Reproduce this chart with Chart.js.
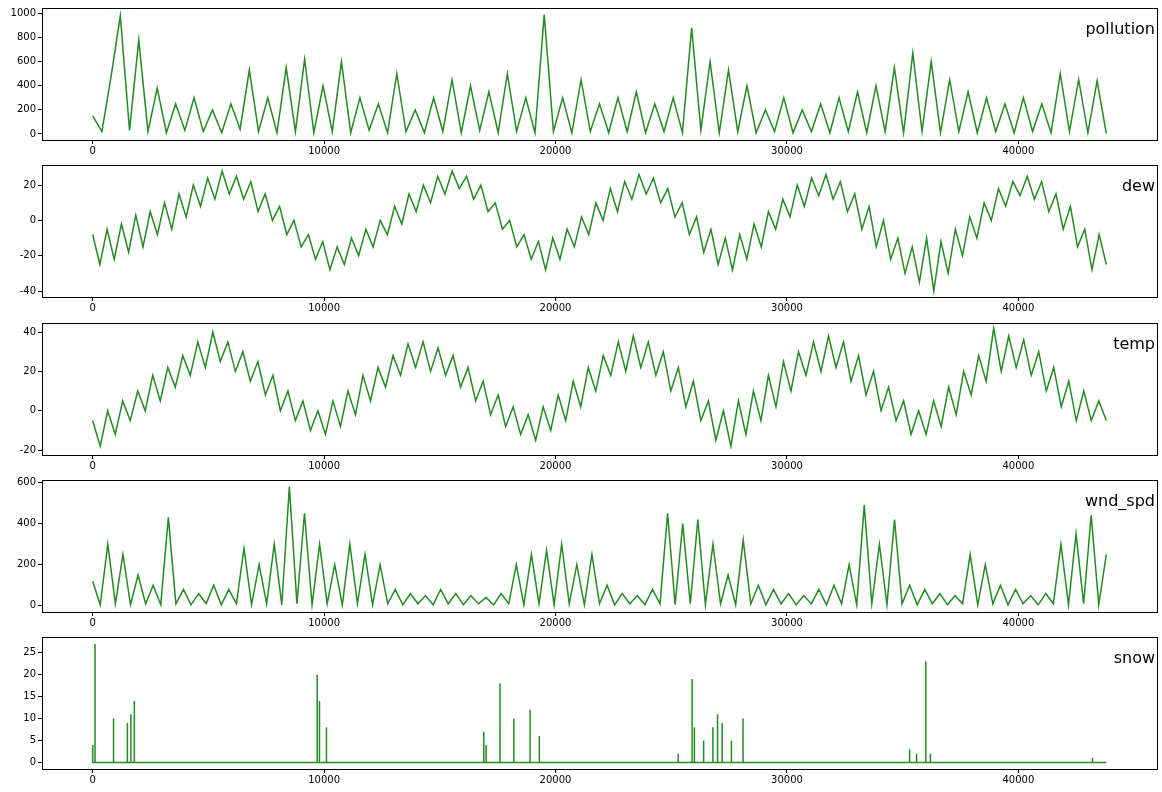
<!DOCTYPE html>
<html><head><meta charset="utf-8">
<script src="https://cdn.jsdelivr.net/npm/chart.js@4.4.0/dist/chart.umd.min.js"></script>
<style>body{margin:0;background:#fff;width:1162px;height:792px;position:relative;overflow:hidden}
.p{position:absolute;left:0;width:1162px;height:157px}</style></head><body>
<script>
const TOTAL_HOURS = 43800;
const xTicks = [0,10000,20000,30000,40000];
const pollution = [150,20,480,980,30,780,20,380,10,250,30,300,20,200,10,250,40,530,20,300,10,550,20,620,10,400,20,600,10,300,30,250,10,500,20,200,10,300,20,450,10,400,30,350,10,500,20,300,10,990,20,300,10,450,20,250,10,300,20,350,10,250,20,300,10,880,30,600,10,530,20,400,10,200,20,300,10,200,20,250,10,300,20,350,10,400,20,550,10,670,20,600,10,450,20,350,10,300,20,250,10,300,20,250,10,500,20,450,10,440,5];
const dew = [-8,-25,-5,-22,-2,-18,3,-15,5,-8,10,-5,15,2,20,8,24,12,28,15,25,12,22,5,15,0,8,-8,0,-15,-8,-22,-12,-28,-15,-25,-10,-20,-5,-15,0,-8,8,-2,15,5,20,10,25,15,28,18,25,12,20,5,10,-5,0,-15,-8,-22,-12,-28,-10,-22,-5,-15,2,-8,10,0,18,5,22,12,26,15,24,10,18,2,10,-8,2,-18,-5,-25,-10,-28,-8,-22,-2,-15,5,-5,12,2,20,8,24,14,26,12,22,5,15,-5,8,-15,0,-22,-10,-30,-15,-35,-10,-40,-12,-30,-5,-20,2,-10,10,0,18,8,22,14,25,12,22,5,15,-5,8,-15,-5,-28,-8,-25];
const temp = [-5,-18,0,-12,5,-5,10,0,18,5,22,12,28,18,35,22,40,25,35,20,30,15,25,8,18,0,10,-5,5,-10,0,-12,5,-8,10,-2,18,5,22,12,28,18,34,22,35,20,32,18,28,12,22,5,15,-2,8,-8,2,-12,-2,-15,2,-10,8,-5,15,2,22,10,28,18,35,20,38,22,35,18,30,10,22,2,15,-5,5,-15,0,-18,5,-12,10,-5,18,2,25,10,30,18,35,20,38,22,35,15,28,8,20,0,12,-5,5,-12,0,-12,5,-8,12,-2,20,8,28,15,42,20,38,22,36,18,30,10,22,2,15,-5,10,-5,5,-5];
const wndSpd = [120,5,300,10,250,5,150,10,100,5,430,10,80,5,60,10,100,5,80,10,280,5,200,10,300,5,580,10,450,5,300,10,200,5,300,10,250,5,200,10,80,5,60,10,50,5,80,10,60,5,50,10,40,5,60,10,200,5,250,10,270,5,300,10,200,5,250,10,100,5,60,10,50,5,80,10,450,5,400,10,420,5,300,10,150,5,320,10,100,5,80,10,60,5,50,10,80,5,100,10,200,5,490,10,300,5,420,10,100,5,80,10,60,5,50,10,250,5,200,10,100,5,80,10,50,5,60,10,300,5,350,10,440,5,250];
const snowAt = [0,100,900,1500,1650,1800,9700,9800,10100,16900,17000,17600,18200,18900,19300,25300,25900,26000,26400,26800,27000,27200,27600,28100,35300,35600,36000,36200,43200];
const snowVal = [4,27,10,9,11,14,20,14,8,7,4,18,10,12,6,2,19,8,5,8,11,9,5,10,3,2,23,2,1];

function evenly(vals){const n=vals.length;return vals.map((v,i)=>({x:i*TOTAL_HOURS/(n-1),y:v}));}
function spikes(){const d=[{x:0,y:0}];snowAt.forEach((x,i)=>{d.push({x:x-1,y:0},{x:x,y:snowVal[i]},{x:x+1,y:0});});d.push({x:TOTAL_HOURS,y:0});return d.sort((a,b)=>a.x-b.x);}

const panels = [
 {name:'pollution',data:evenly(pollution),min:-50,max:1045,ticks:[0,200,400,600,800,1000]},
 {name:'dew',data:evenly(dew),min:-43.4,max:31.4,ticks:[-40,-20,0,20]},
 {name:'temp',data:evenly(temp),min:-22.5,max:44.6,ticks:[-20,0,20,40]},
 {name:'wnd_spd',data:evenly(wndSpd),min:-30,max:612,ticks:[0,200,400,600]},
 {name:'snow',data:spikes(),min:-1.5,max:28.6,ticks:[0,5,10,15,20,25]}
];
const frame={id:'frame',afterDraw(c){const a=c.chartArea,x=c.ctx;x.save();x.strokeStyle='#000';x.lineWidth=1;x.strokeRect(a.left+0.5,a.top+0.5,a.right-a.left,a.bottom-a.top);
 x.fillStyle='#000';x.font='16px "DejaVu Sans"';x.textAlign='right';x.textBaseline='alphabetic';x.fillText(c.options.plugins.frame.title,a.right-2,a.top+26);x.restore();}};
panels.forEach((p,i)=>{
 const d=document.createElement('div');d.className='p';d.style.top=(157.25*i)+'px';
 const cv=document.createElement('canvas');d.appendChild(cv);document.body.appendChild(d);
 new Chart(cv,{type:'line',data:{datasets:[{data:p.data,borderColor:'#228B22',borderWidth:1.5,pointRadius:0,tension:0}]},
 plugins:[frame],
 options:{responsive:true,maintainAspectRatio:false,animation:false,layout:{padding:{top:8,right:5,left:0,bottom:0}},
 plugins:{legend:{display:false},tooltip:{enabled:false},frame:{title:p.name}},
 scales:{
  x:{type:'linear',min:-2190,max:45990,afterBuildTicks:s=>{s.ticks=xTicks.map(v=>({value:v}));},afterFit:s=>{s.height=17;},
   grid:{drawOnChartArea:false,tickLength:4,color:'#000'},border:{display:false},
   ticks:{color:'#000',font:{size:10,family:'DejaVu Sans'},padding:1,maxRotation:0,callback:v=>String(v)}},
  y:{min:p.min,max:p.max,afterBuildTicks:s=>{s.ticks=p.ticks.map(v=>({value:v}));},afterFit:s=>{s.width=42;},
   grid:{drawOnChartArea:false,tickLength:4,color:'#000'},border:{display:false},
   ticks:{color:'#000',font:{size:10,family:'DejaVu Sans'},padding:2,callback:v=>String(v)}}
 }}});
});
</script></body></html>
